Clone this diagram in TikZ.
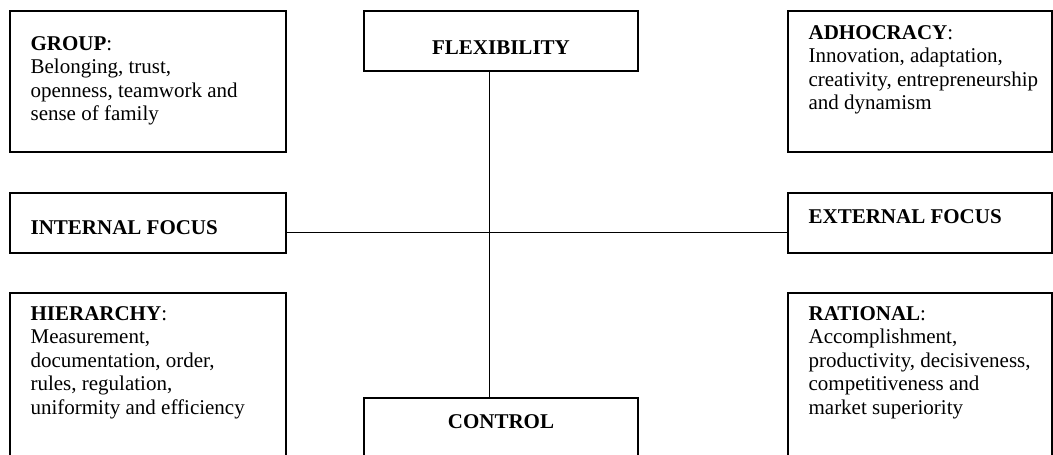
\documentclass[tikz,border=0pt]{standalone}
\usepackage{fontspec}
\setmainfont{Liberation Serif}
\usetikzlibrary{positioning,fit,calc}

\begin{document}
\begin{tikzpicture}[
  x=0.6pt, y=-0.6pt,
  font=\fontsize{12.6}{14.1}\selectfont,
  cell/.style={draw, line width=0.9pt, inner sep=0pt},
  txt/.style={align=left, inner sep=0pt, anchor=north west},
  head/.style={inner sep=0pt, anchor=base, font=\fontsize{12.6}{14.1}\selectfont\bfseries},
  axis/.style={line width=0.5pt},
]
\useasboundingbox (0,0) rectangle (1053,454);

% ===== boxes =====
\node[cell, fit={(10,11) (286,152)}] (group) {};
\node[cell, fit={(364,11) (638,71)}] (flex) {};
\node[cell, fit={(788,11) (1052,152)}] (adhoc) {};
\node[cell, fit={(10,193) (286,253)}] (internal) {};
\node[cell, fit={(788,193) (1052,253)}] (external) {};
\node[cell, fit={(10,293) (286,464)}] (hier) {};
\node[cell, fit={(364,398) (638,464)}] (control) {};
\node[cell, fit={(788,293) (1052,464)}] (rational) {};

% ===== texts =====
\node[txt] (grouptxt) at ([shift={(21,26)}]group.north west)
  {\textbf{GROUP}:\\Belonging, trust,\\openness, teamwork and\\sense of family};
\node[head] (flextxt) at ([yshift=-44*0.6pt]flex.north) {FLEXIBILITY};
\node[txt] (adhoctxt) at ([shift={(21,15)}]adhoc.north west)
  {\textbf{ADHOCRACY}:\\Innovation, adaptation,\\creativity, entrepreneurship\\and dynamism};
\node[head, anchor=base west] (internaltxt)
  at ([shift={(21,42)}]internal.north west) {INTERNAL FOCUS};
\node[head, anchor=base west] (externaltxt)
  at ([shift={(21,31)}]external.north west) {EXTERNAL FOCUS};
\node[txt] (hiertxt) at ([shift={(21,14)}]hier.north west)
  {\textbf{HIERARCHY}:\\Measurement,\\documentation, order,\\rules, regulation,\\uniformity and efficiency};
\node[head] (controltxt) at ([yshift=-31*0.6pt]control.north) {CONTROL};
\node[txt] (rationaltxt) at ([shift={(21,14)}]rational.north west)
  {\textbf{RATIONAL}:\\Accomplishment,\\productivity, decisiveness,\\competitiveness and\\market superiority};

% ===== axes =====
\coordinate (vx) at (489,0);
\coordinate (hy) at (0,232);
\draw[axis] (flex.south -| vx) -- (control.north -| vx);
\draw[axis] (internal.east |- hy) -- (external.west |- hy);
\end{tikzpicture}
\end{document}
